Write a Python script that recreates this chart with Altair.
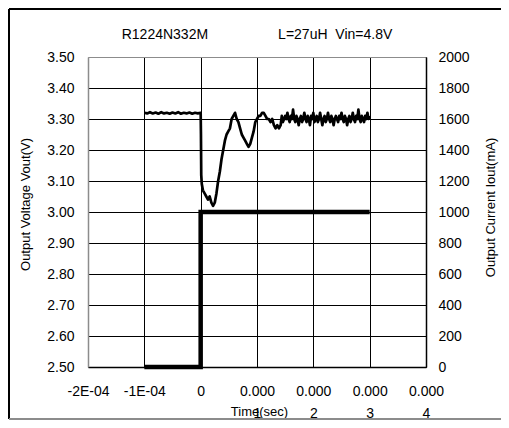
import altair as alt
import pandas as pd

# ---- data ----
title_text = "R1224N332M" + "\u00a0" * 18 + "L=27uH\u00a0\u00a0Vin=4.8V"

# voltage trace: time in microseconds, Vout in volts
v_t_us = [-100, -95, -90, -85, -80, -75, -70, -65, -60, -55, -50, -45, -40, -35, -30, -25,
          -20, -15, -10, -5, 0,
          0.5, 1, 2, 4, 7, 10, 13, 16, 19, 22, 25, 28, 31, 34, 37, 40, 43, 46, 49, 52, 55,
          58, 61, 64, 67, 70, 73, 76, 79, 82, 85, 88, 91, 94, 97, 100, 103, 106, 109, 112,
          115, 118, 121, 124, 127, 130, 133, 136, 139, 142,
          144, 146, 148, 150, 152, 154, 156, 158, 160, 162, 164, 166, 168, 170, 172, 174,
          176, 178, 180, 182, 184, 186, 188, 190, 192, 194, 196, 198, 200, 202, 204, 206,
          208, 210, 212, 214, 216, 218, 220, 222, 224, 226, 228, 230, 232, 234, 236, 238,
          240, 242, 244, 246, 248, 250, 252, 254, 256, 258, 260, 262, 264, 266, 268, 270,
          272, 274, 276, 278, 280, 282, 284, 286, 288, 290, 292, 294, 296, 298, 300]
v_vals = [3.320, 3.318, 3.322, 3.318, 3.321, 3.317, 3.322, 3.318, 3.320, 3.317, 3.321, 3.318,
          3.322, 3.317, 3.320, 3.318, 3.321, 3.317, 3.320, 3.318, 3.320,
          3.25, 3.12, 3.09, 3.07, 3.06, 3.05, 3.04, 3.05, 3.03, 3.02, 3.03, 3.06, 3.10, 3.13,
          3.17, 3.20, 3.23, 3.25, 3.26, 3.27, 3.30,
          3.31, 3.32, 3.30, 3.29, 3.27, 3.25, 3.24, 3.23, 3.22, 3.21, 3.22, 3.24, 3.26, 3.29,
          3.30, 3.31, 3.31, 3.32, 3.32, 3.31, 3.30, 3.30, 3.29, 3.30, 3.28, 3.27, 3.28, 3.27,
          3.28,
          3.31, 3.29, 3.30, 3.31, 3.30, 3.32, 3.30, 3.29, 3.31, 3.30, 3.33, 3.30, 3.29, 3.31,
          3.30, 3.28, 3.30, 3.31, 3.29, 3.30, 3.32, 3.30, 3.29, 3.31, 3.30, 3.28, 3.31, 3.30,
          3.32, 3.29, 3.30, 3.31, 3.29, 3.30, 3.32, 3.30, 3.28, 3.30, 3.31, 3.29, 3.30, 3.32,
          3.30, 3.29, 3.31, 3.30, 3.28, 3.30, 3.31, 3.30, 3.29, 3.31, 3.30, 3.32, 3.30, 3.29,
          3.31, 3.30, 3.28, 3.30, 3.31, 3.29, 3.30, 3.32, 3.30, 3.29, 3.31, 3.30, 3.33, 3.30,
          3.29, 3.31, 3.30, 3.29, 3.31, 3.30, 3.32, 3.30, 3.31]

# load current: time in microseconds, Iout in mA
i_t_us = [-100, 0, 0, 300]
i_vals = [0, 0, 1000, 1000]

x_ticks = [-0.0002, -0.0001, 0, 0.0001, 0.0002, 0.0003, 0.0004]
x_tick_labels = ["-2E-04", "-1E-04", "0", "0.000|1", "0.000|2", "0.000|3", "0.000|4"]
y_left_ticks = [2.5, 2.6, 2.7, 2.8, 2.9, 3.0, 3.1, 3.2, 3.3, 3.4, 3.5]
y_right_ticks = [0, 200, 400, 600, 800, 1000, 1200, 1400, 1600, 1800, 2000]

# ---- tables ----
vdf = pd.DataFrame({"t": [t * 1e-6 for t in v_t_us], "v": v_vals, "i": range(len(v_vals))})
idf = pd.DataFrame({"t": [t * 1e-6 for t in i_t_us], "c": i_vals, "i": range(len(i_vals))})

label_arr = "[" + ",".join("'%s'" % s for s in x_tick_labels) + "]"
x_label_expr = "split(%s[round(datum.value*10000)+2], '|')" % label_arr

FONT = "Liberation Sans"
GRAY = "#8c8c8c"

x_enc = alt.X(
    "t:Q",
    scale=alt.Scale(domain=[-0.0002, 0.0004], nice=False, zero=False),
    axis=alt.Axis(
        values=x_ticks, labelExpr=x_label_expr, title="Time(sec)",
        grid=True,
        gridColor=alt.condition("datum.value < -0.00015", alt.value(GRAY), alt.value("black")),
        gridWidth=1, ticks=False, domainColor="black", domainWidth=1.5,
        labelPadding=17, labelLineHeight=22, labelFontSize=14, labelColor="black",
        labelFont=FONT, labelOverlap=False, labelFlush=False, labelBaseline="top",
        titleFont=FONT, titleFontSize=13, titleFontWeight="normal", titleColor="black",
        titleX=171, titleY=44, titleBaseline="middle", titleAlign="center",
    ),
)

volt = alt.Chart(vdf).mark_line(color="black", strokeWidth=2.7, strokeJoin="round").encode(
    x=x_enc,
    y=alt.Y(
        "v:Q",
        scale=alt.Scale(domain=[2.5, 3.5], nice=False, zero=False),
        axis=alt.Axis(
            values=y_left_ticks, format=".2f", title="Output Voltage Vout(V)", orient="left",
            grid=True,
            gridColor=alt.condition("datum.value > 3.45", alt.value(GRAY), alt.value("black")),
            gridWidth=1, ticks=False, domainColor=GRAY, domainWidth=1.5,
            labelPadding=14, labelFontSize=14, labelColor="black", labelFont=FONT,
            labelFlush=False,
            titleFont=FONT, titleFontSize=13, titleFontWeight="normal", titleColor="black",
            titleX=-63, titleY=147, titleAngle=270, titleBaseline="middle", titleAlign="center",
        ),
    ),
    order=alt.Order("i:Q"),
)

curr = alt.Chart(idf).mark_line(color="black", strokeWidth=4.5, strokeCap="butt").encode(
    x=alt.X("t:Q"),
    y=alt.Y(
        "c:Q",
        scale=alt.Scale(domain=[0, 2000], nice=False, zero=False),
        axis=alt.Axis(
            values=y_right_ticks, format="d", title="Output Current Iout(mA)", orient="right",
            grid=False, ticks=False, domainColor="black", domainWidth=1.5,
            labelPadding=12, labelFontSize=14, labelColor="black", labelFont=FONT,
            labelFlush=False,
            titleFont=FONT, titleFontSize=13, titleFontWeight="normal", titleColor="black",
            titleX=64, titleY=150, titleAngle=270, titleBaseline="middle", titleAlign="center",
        ),
    ),
    order=alt.Order("i:Q"),
)

# outer chart frame (decoration)
frame_left = alt.Chart().mark_rule(color="black", strokeWidth=2).encode(
    x=alt.value(-79), y=alt.value(-48), y2=alt.value(362))
frame_top = alt.Chart().mark_rule(color="black", strokeWidth=2).encode(
    x=alt.value(-79), x2=alt.value(413), y=alt.value(-48))
frame_bottom = alt.Chart().mark_rule(color=GRAY, strokeWidth=2).encode(
    x=alt.value(-79), x2=alt.value(413), y=alt.value(362))

chart = alt.layer(volt, curr, frame_left, frame_top, frame_bottom).resolve_scale(
    y="independent"
).properties(
    width=338, height=310,
    title=alt.TitleParams(title_text, fontSize=14, fontWeight="normal", font=FONT,
                          color="black", anchor="middle", baseline="middle", offset=-41,
                          frame="group"),
    padding={"left": 80, "top": 49, "right": 75, "bottom": 53},
    autosize="none",
).configure_view(stroke=GRAY, strokeWidth=1.5).configure(background="white")

chart.save("out.html", embed_options={"renderer": "svg", "actions": False})
